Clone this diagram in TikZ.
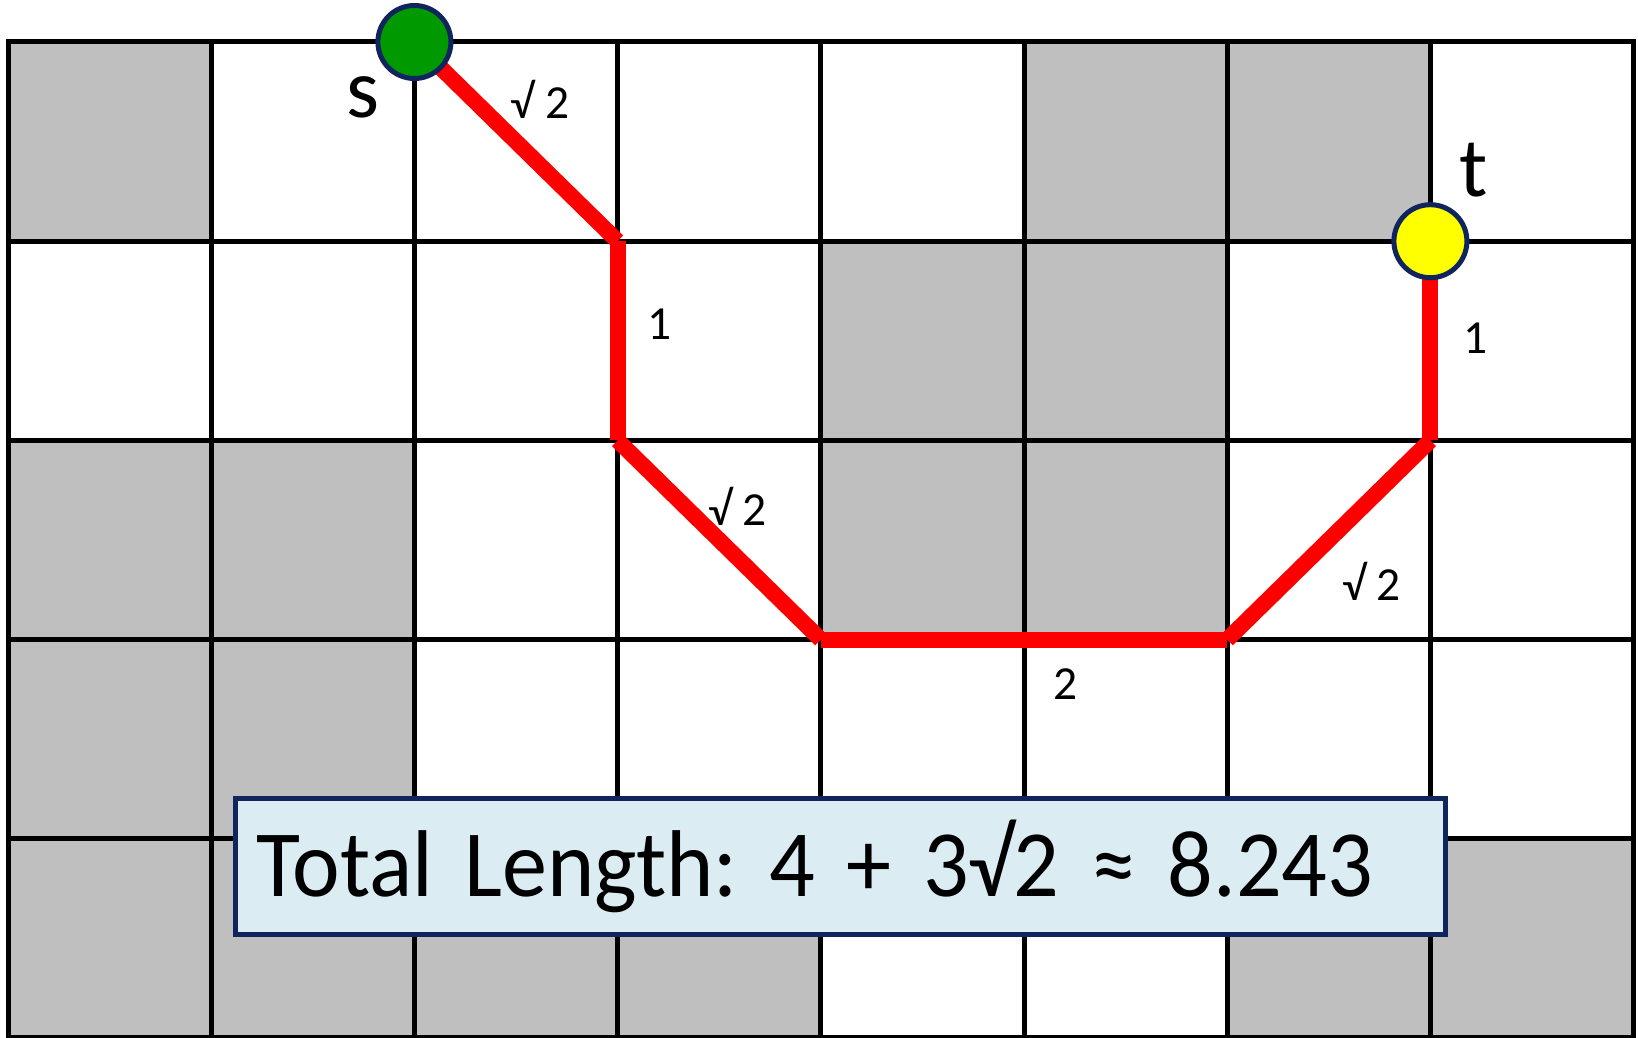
\documentclass[tikz,border=0pt]{standalone}
\usepackage{fontspec}
\setmainfont{Carlito}
\newfontfamily\boxfont{Carlito}[FakeStretch=0.95]
\usetikzlibrary{positioning}
\definecolor{cWall}{RGB}{191,191,191}
\definecolor{cPath}{RGB}{255,0,0}
\definecolor{cStart}{RGB}{0,153,0}
\definecolor{cGoal}{RGB}{255,255,0}
\definecolor{cNavy}{RGB}{16,36,94}
\definecolor{cBox}{RGB}{219,236,243}
\tikzset{
  wall/.style={fill=cWall,draw=none},
  gridline/.style={line width=0.1cm,black,line cap=rect},
  pathseg/.style={line width=0.32cm,color=cPath},
  endpt/.style={circle,draw=cNavy,line width=0.1cm,
                minimum size=1.46cm,inner sep=0pt},
  startnode/.style={endpt,fill=cStart},
  goalnode/.style={endpt,fill=cGoal},
  seglbl/.style={font=\fontsize{27}{32}\selectfont,inner sep=0pt,text=black},
  ptlbl/.style={font=\fontsize{48}{56}\selectfont,inner sep=0pt},
  totalbox/.style={rectangle,draw=cNavy,fill=cBox,line width=0.1cm,
                   minimum width=24.2cm,minimum height=2.72cm,
                   text width=23.36cm,inner xsep=0.42cm,align=left,
                   font=\boxfont\fontsize{54}{62}\selectfont\frenchspacing}
}

\begin{document}
\begin{tikzpicture}[x=4.064cm,y=-3.984cm]
  \useasboundingbox (-0.0394,-0.2108) rectangle (8.0217,5.0);
  \begin{scope}
    \clip (-0.0394,-0.2108) rectangle (8.0217,5.0);
    % blocked cells
    \foreach \c/\r in {0/0,5/0,6/0,4/1,5/1,0/2,1/2,4/2,5/2,
                       0/3,1/3,0/4,1/4,2/4,3/4,6/4,7/4}
      \fill[wall] (\c,\r) rectangle ++(1,1);
    \foreach \c in {0,...,8} \draw[gridline] (\c,0) -- (\c,5);
    \foreach \r in {0,...,5} \draw[gridline] (0,\r) -- (8,\r);
  \end{scope}

  \coordinate (ps) at (2,0);
  \coordinate (p1) at (3,1);
  \coordinate (p2) at (3,2);
  \coordinate (p3) at (4,3);
  \coordinate (p4) at (6,3);
  \coordinate (p5) at (7,2);
  \coordinate (pt) at (7,1);

  \draw[pathseg] (ps) -- (p1)
      node[seglbl,midway,xshift=0.48cm,yshift=0.84cm]{√ 2};
  \draw[pathseg] (p1) -- (p2)
      node[seglbl,midway,xshift=0.84cm,yshift=0.34cm]{1};
  \draw[pathseg] (p2) -- (p3)
      node[seglbl,midway,xshift=0.36cm,yshift=0.68cm]{√ 2};
  \draw[pathseg] (p3) -- (p4)
      node[seglbl,midway,xshift=0.84cm,yshift=-0.9cm]{2};
  \draw[pathseg] (p4) -- (p5)
      node[seglbl,midway,xshift=0.86cm,yshift=-0.82cm]{√ 2};
  \draw[pathseg] (p5) -- (pt)
      node[seglbl,midway,xshift=0.9cm,yshift=0.06cm]{1};

  \node[startnode] (s) at (ps) {};
  \node[goalnode] (t) at (pt) {};
  \node[ptlbl,xshift=-1.02cm,yshift=-1.1cm] (slbl) at (s) {s};
  \node[ptlbl,xshift=0.86cm,yshift=1.42cm] (tlbl) at (t) {t};

  \node[totalbox] (total) at (4.099,4.137)
      {Total Length: 4 + 3√2 ≈ 8.243};
\end{tikzpicture}
\end{document}
